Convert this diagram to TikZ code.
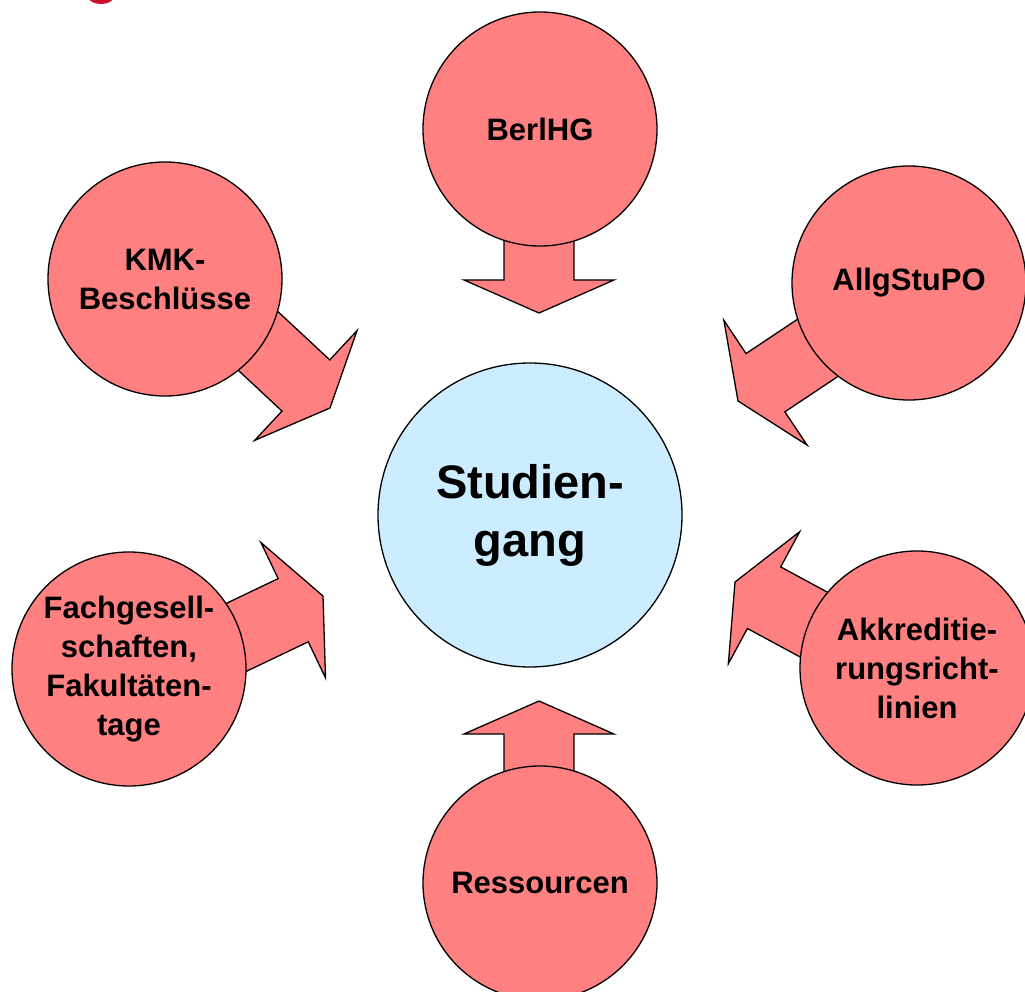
\documentclass[tikz,border=0pt]{standalone}
\usepackage{fontspec}
\setmainfont{Liberation Sans}
\definecolor{circred}{RGB}{255,128,128}
\definecolor{circblue}{RGB}{204,236,255}
\definecolor{titlered}{RGB}{204,16,40}
\tikzset{
  outer/.style={circle, draw=black, line width=1.3pt, fill=circred, minimum size=234pt, inner sep=0pt, align=center,
    font=\fontsize{31}{39}\selectfont\bfseries},
  center/.style={circle, draw=black, line width=1.3pt, fill=circblue, minimum size=304pt, inner sep=0pt, align=center,
    font=\fontsize{47}{58}\selectfont\bfseries},
  blockarrow/.pic={
    \draw[line width=1.3pt, fill=circred, line join=miter]
      (0,0) -- (-33,75) -- (-33,35) -- (-150,35) -- (-150,-35) -- (-33,-35) -- (-33,-75) -- cycle;
  }
}
\begin{document}
\begin{tikzpicture}[x=1pt,y=-1pt]
\clip (0,0) rectangle (1025,992);
\useasboundingbox (0,0) rectangle (1025,992);
% cut-off red title fragment
\fill[titlered] (101,-2) ellipse [x radius=12, y radius=6];
% block arrows (drawn first, circles cover their tails)
\coordinate (tipB) at (539,313);
\coordinate (tipR) at (539,701);
\coordinate (tipK) at (330,408);
\coordinate (tipA) at (738,401);
\coordinate (tipAk) at (735,582);
\coordinate (tipF) at (323,596);
\pic[rotate=-90] at (tipB) {blockarrow};
\pic[rotate=90] at (tipR) {blockarrow};
\pic[rotate=-43] at (tipK) {blockarrow};
\pic[rotate=-146.3] at (tipA) {blockarrow};
\pic[rotate=151.6] at (tipAk) {blockarrow};
\pic[rotate=25.5] at (tipF) {blockarrow};
% circles
\node[center] (stud) at (530,515) {Studien-\\gang};
\node[outer] (berl) at (540,129) {BerlHG};
\node[outer] (ress) at (540,883) {Ressourcen};
\node[outer] (kmk) at (165,279) {KMK-\\Beschlüsse};
\node[outer] (allg) at (909,283) {AllgStuPO};
\node[outer] (akk) at (917,668) {Akkreditie-\\rungsricht-\\linien};
\node[outer] (fach) at (129,669) {Fachgesell-\\schaften,\\Fakultäten-\\tage};
\end{tikzpicture}
\end{document}
